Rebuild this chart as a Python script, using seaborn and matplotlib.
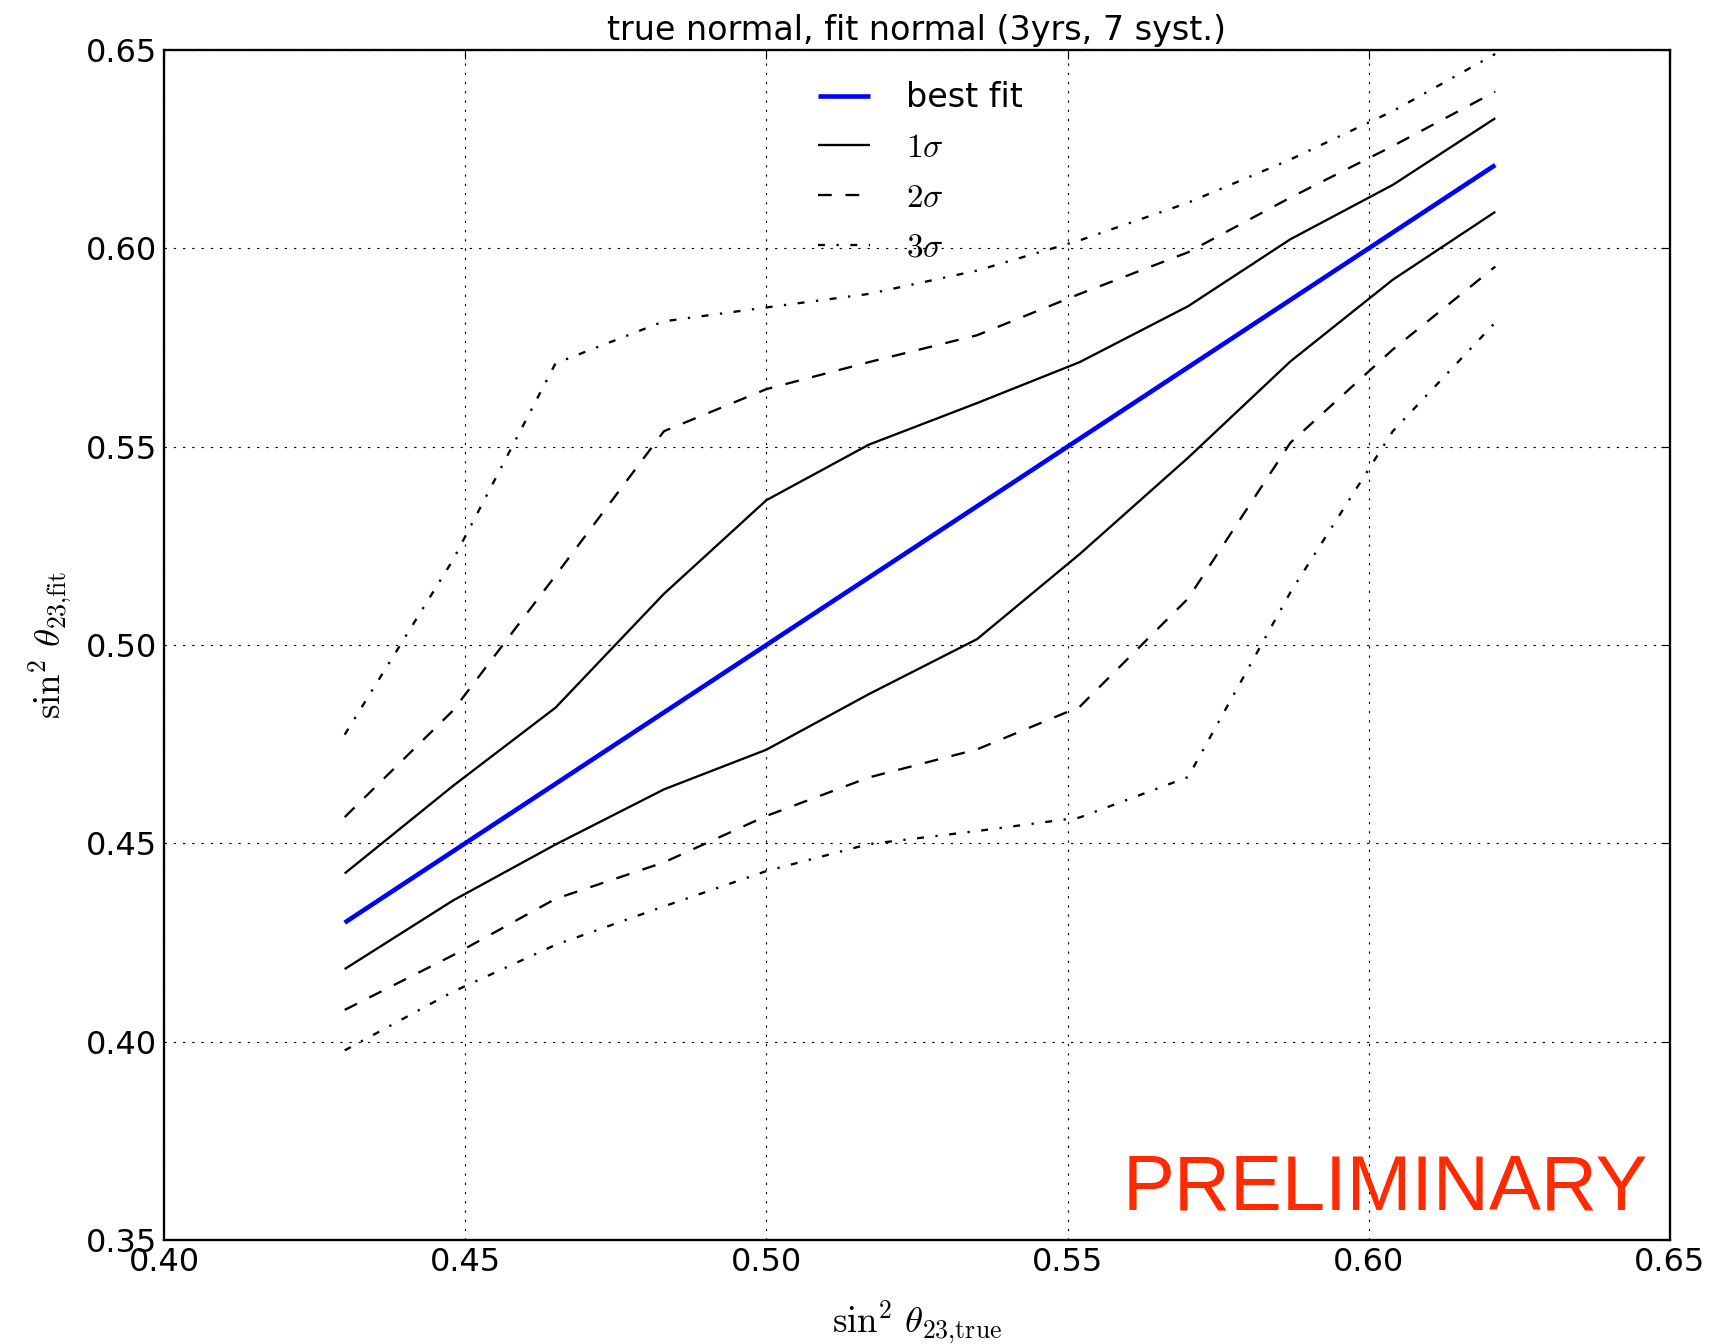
import numpy as np
import pandas as pd
import matplotlib
matplotlib.use("Agg")
import matplotlib.pyplot as plt
import seaborn as sns

# sin^2(theta23) true values and fitted contours
sin2_true = [0.430, 0.448, 0.465, 0.483, 0.500, 0.517,
             0.535, 0.552, 0.570, 0.587, 0.604, 0.621]
best_fit = [0.430, 0.448, 0.465, 0.483, 0.500, 0.517,
            0.535, 0.552, 0.570, 0.587, 0.604, 0.621]
sig1_up = [0.4424, 0.4645, 0.4842, 0.5129, 0.5365, 0.5505,
           0.5610, 0.5713, 0.5854, 0.6023, 0.6160, 0.6328]
sig1_lo = [0.4183, 0.4356, 0.4497, 0.4636, 0.4736, 0.4876,
           0.5015, 0.5229, 0.5472, 0.5715, 0.5921, 0.6092]
sig2_up = [0.4566, 0.4835, 0.5175, 0.5539, 0.5645, 0.5713,
           0.5781, 0.5885, 0.5990, 0.6128, 0.6258, 0.6395]
sig2_lo = [0.4080, 0.4218, 0.4360, 0.4452, 0.4569, 0.4666,
           0.4737, 0.4844, 0.5117, 0.5510, 0.5745, 0.5954]
sig3_up = [0.4774, 0.5215, 0.5710, 0.5816, 0.5851, 0.5885,
           0.5944, 0.6020, 0.6115, 0.6224, 0.6346, 0.6490]
sig3_lo = [0.3978, 0.4126, 0.4244, 0.4341, 0.4430, 0.4498,
           0.4531, 0.4565, 0.4667, 0.5133, 0.5539, 0.5813]

tick_vals = [0.35, 0.40, 0.45, 0.50, 0.55, 0.60, 0.65]
x_ticks = [0.40, 0.45, 0.50, 0.55, 0.60, 0.65]

sns.set_style("white")
plt.rcParams["font.family"] = ["DejaVu Sans"]
plt.rcParams["mathtext.fontset"] = "cm"
plt.rcParams["lines.scale_dashes"] = False
plt.rcParams["lines.solid_capstyle"] = "butt"
plt.rcParams["text.color"] = "black"
plt.rcParams["axes.labelcolor"] = "black"

df = pd.DataFrame({
    "x": sin2_true, "best": best_fit,
    "s1u": sig1_up, "s1l": sig1_lo,
    "s2u": sig2_up, "s2l": sig2_lo,
    "s3u": sig3_up, "s3l": sig3_lo,
})

DASH = (0, (9.9, 9.9))
DASHDOT = (0, (5.0, 8.3, 1.66, 8.3))
LW = 1.66

fig = plt.figure(figsize=(17.17, 13.44), dpi=100)
ax = fig.add_axes([0.0955, 0.0774, 0.8771, 0.8854])

sns.lineplot(data=df, x="x", y="best", ax=ax, color="#0000ff", lw=3.3, label="best fit")
sns.lineplot(data=df, x="x", y="s1u", ax=ax, color="black", lw=LW, label=r"$1\sigma$")
sns.lineplot(data=df, x="x", y="s2u", ax=ax, color="black", lw=LW, linestyle=DASH, label=r"$2\sigma$")
sns.lineplot(data=df, x="x", y="s3u", ax=ax, color="black", lw=LW, linestyle=DASHDOT, label=r"$3\sigma$")
sns.lineplot(data=df, x="x", y="s1l", ax=ax, color="black", lw=LW)
sns.lineplot(data=df, x="x", y="s2l", ax=ax, color="black", lw=LW, linestyle=DASH)
sns.lineplot(data=df, x="x", y="s3l", ax=ax, color="black", lw=LW, linestyle=DASHDOT)

ax.set_xlim(0.40, 0.65)
ax.set_ylim(0.35, 0.65)
ax.set_xticks(x_ticks)
ax.set_yticks(tick_vals)
ax.set_xticklabels([f"{v:.2f}" for v in x_ticks])
ax.set_yticklabels([f"{v:.2f}" for v in tick_vals])
ax.tick_params(direction="in", length=6.6, width=0.83, labelsize=23, pad=5,
               top=True, right=True, colors="black")
ax.grid(True, color="black", lw=0.83, linestyle=(0, (1.66, 5.0)))
for sp in ax.spines.values():
    sp.set_linewidth(1.66)
    sp.set_color("black")

ax.set_xlabel(r"$\sin^2\,\theta_{23{,}\mathrm{true}}$", fontsize=26.5, labelpad=15)
ax.set_ylabel(r"$\sin^2\,\theta_{23{,}\mathrm{fit}}$", fontsize=26.5, labelpad=8)
ax.set_title("true normal, fit normal (3yrs, 7 syst.)", fontsize=24, pad=7, color="black")

ax.legend(loc="upper left", bbox_to_anchor=(0.4146, 0.999), frameon=False,
          fontsize=24, handlelength=1.56, handletextpad=1.08, labelspacing=0.5)

ax.text(0.9854, 0.0252, "PRELIMINARY", transform=ax.transAxes, ha="right",
        va="baseline", color="#ff2a00", fontsize=56, family="Liberation Sans")

fig.savefig("out.png", dpi=100)
